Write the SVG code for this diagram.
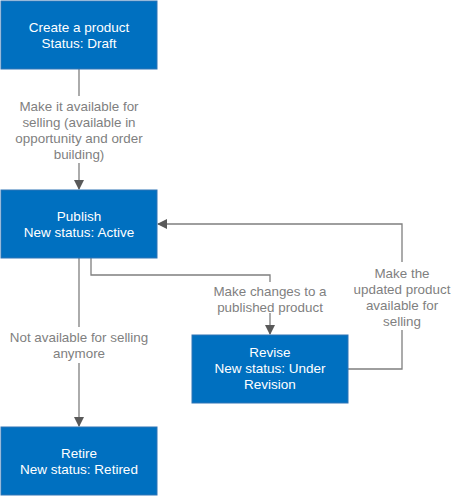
<svg xmlns="http://www.w3.org/2000/svg" width="464" height="497" viewBox="0 0 464 497">
<defs>
<style>
.box{fill:#0070c0;stroke:#2e75b6;stroke-width:1}
.bt{font-family:"Liberation Sans",Arial,sans-serif;font-size:13.5px;fill:#ffffff;text-anchor:middle}
.lt{font-family:"Liberation Sans",Arial,sans-serif;font-size:13.4px;fill:#7f7f7f;text-anchor:middle}
.ln{fill:none;stroke:#7f7f7f;stroke-width:1.3}
</style>
<marker id="ah" markerWidth="10" markerHeight="10" refX="9" refY="5" orient="auto" markerUnits="userSpaceOnUse">
<path d="M0,0 L10,5 L0,10 Z" fill="#595959"/>
</marker>
</defs>
<rect width="464" height="497" fill="#ffffff"/>
<g id="connectors">
<path class="ln" d="M79,69 V96"/>
<path class="ln" d="M79,163 V189" marker-end="url(#ah)"/>
<path class="ln" d="M91,258 V275 H270 V282"/>
<path class="ln" d="M270,313 V334" marker-end="url(#ah)"/>
<path class="ln" d="M348,369 H402 V330"/>
<path class="ln" d="M402,262 V224 H158" marker-end="url(#ah)"/>
<path class="ln" d="M79,258 V327"/>
<path class="ln" d="M79,363 V426" marker-end="url(#ah)"/>
<text class="lt" x="79" y="110.5">Make it available for</text>
<text class="lt" x="79" y="126.5">selling (available in</text>
<text class="lt" x="79" y="142.5">opportunity and order</text>
<text class="lt" x="79" y="158.5">building)</text>
<text class="lt" x="270" y="296">Make changes to a</text>
<text class="lt" x="270" y="311.5">published product</text>
<text class="lt" x="402" y="277.5">Make the</text>
<text class="lt" x="402" y="293.5">updated product</text>
<text class="lt" x="402" y="309.5">available for</text>
<text class="lt" x="402" y="325.5">selling</text>
<text class="lt" x="79" y="342">Not available for selling</text>
<text class="lt" x="79" y="357.5">anymore</text>
</g>
<g id="create">
<rect class="box" x="1" y="1" width="156" height="68"/>
<text class="bt" x="79" y="31.5">Create a product</text>
<text class="bt" x="79" y="47.5">Status: Draft</text>
</g>
<g id="publish">
<rect class="box" x="1" y="190" width="156" height="68"/>
<text class="bt" x="79" y="220.5">Publish</text>
<text class="bt" x="79" y="236.5">New status: Active</text>
</g>
<g id="revise">
<rect class="box" x="192" y="335" width="156" height="68"/>
<text class="bt" x="270" y="356.5">Revise</text>
<text class="bt" x="270" y="372.5">New status: Under</text>
<text class="bt" x="270" y="388.5">Revision</text>
</g>
<g id="retire">
<rect class="box" x="1" y="427" width="156" height="68"/>
<text class="bt" x="79" y="457.5">Retire</text>
<text class="bt" x="79" y="473.5">New status: Retired</text>
</g>
</svg>
